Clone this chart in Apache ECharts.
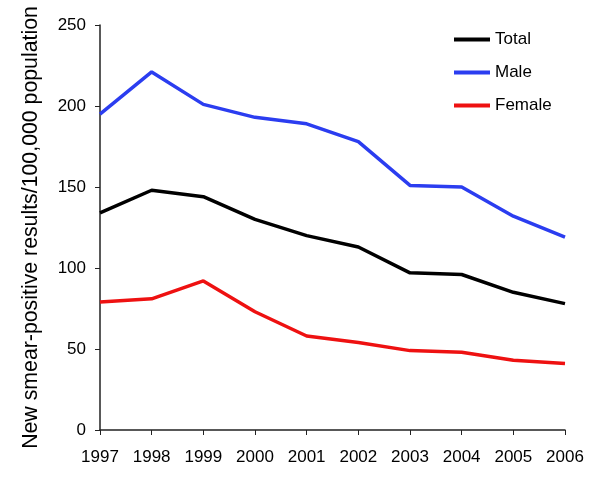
<!DOCTYPE html>
<html><head><meta charset="utf-8">
<script src="https://cdn.jsdelivr.net/npm/echarts@6/dist/echarts.min.js"></script>
<style>html,body{margin:0;padding:0;background:#fff}#c{width:600px;height:492px}</style>
</head><body><div id="c"></div>
<script>
const years = ['1997','1998','1999','2000','2001','2002','2003','2004','2005','2006'];
const total = [134, 148, 144, 130, 120, 113, 97, 96, 85, 78];
const male = [195, 221, 201, 193, 189, 178, 151, 150, 132, 119];
const female = [79, 81, 92, 73, 58, 54, 49, 48, 43, 41];
const yTicks = [0, 50, 100, 150, 200, 250];

const font = 'Liberation Sans, Arial, sans-serif';
const chart = echarts.init(document.getElementById('c'));
function s(name, data, color) {
  return {name, type:'line', data, symbol:'none', lineStyle:{width:3.5, color}, itemStyle:{color}, animation:false};
}
chart.setOption({
  animation:false,
  grid:{left:100, right:35, top:25, bottom:62},
  legend:{orient:'vertical', left:449, top:26, itemWidth:36, itemHeight:14, itemGap:16,
    textStyle:{fontFamily:font, fontSize:17, color:'#000'},
    data:['Total','Male','Female'].map(n=>({name:n, icon:'path://M0,0L36,0L36,4L0,4Z'}))},
  xAxis:{type:'category', data:years, boundaryGap:false,
    axisLine:{lineStyle:{color:'#222', width:1.5}},
    axisTick:{show:true, length:5, lineStyle:{color:'#222'}},
    axisLabel:{fontFamily:font, fontSize:17, color:'#000', margin:19}},
  yAxis:{type:'value', min:yTicks[0], max:yTicks[yTicks.length-1], interval:50,
    name:'New smear-positive results/100,000 population', nameLocation:'middle', nameGap:58,
    nameTextStyle:{fontFamily:font, fontSize:21.3, color:'#000'},
    axisLine:{show:true, lineStyle:{color:'#222', width:1.5}},
    axisTick:{show:true, length:5, lineStyle:{color:'#222'}},
    splitLine:{show:false},
    axisLabel:{fontFamily:font, fontSize:17, color:'#000', margin:14}},
  series:[s('Total', total, '#000000'), s('Male', male, '#2b3df0'), s('Female', female, '#ee1111')]
});
</script></body></html>
